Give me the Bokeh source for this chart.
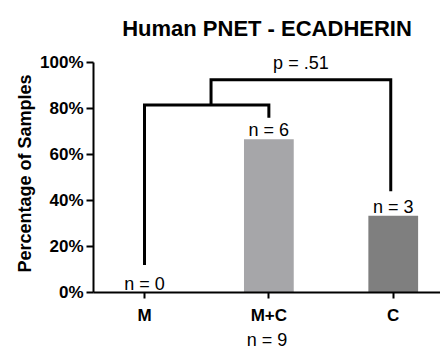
from bokeh.plotting import figure
from bokeh.models import Range1d, FixedTicker, NumeralTickFormatter, Title, Label
from bokeh.core.properties import value
from bokeh.embed import file_html
from bokeh.resources import INLINE

categories = ["M", "M+C", "C"]
counts = [0, 6, 3]
total = 9
percent = [c / total for c in counts]
bar_colors = ["#A6A6A9", "#A6A6A9", "#7F7F7F"]
n_labels = ["n = %d" % c for c in counts]
y_ticks = [0, 0.2, 0.4, 0.6, 0.8, 1.0]

# significance brackets (x in category index units, y in fraction)
bracket1_x = [0, 0, 1, 1]
bracket1_y = [0.12, 0.815, 0.815, 0.76]
bracket2_x = [0.535, 0.535, 1.98, 1.98]
bracket2_y = [0.815, 0.925, 0.925, 0.44]
p_label = "p = .51"

FONT = "Liberation Sans"

p = figure(width=440, height=350, output_backend="svg", toolbar_location=None,
           x_range=Range1d(-0.41, 2.38), y_range=Range1d(0, 1.035),
           min_border_left=93, min_border_right=0, min_border_top=54, min_border_bottom=58)
p.background_fill_color = "white"
p.border_fill_color = "white"
p.outline_line_color = None
p.xgrid.visible = False
p.ygrid.visible = False

x_idx = list(range(len(categories)))
p.vbar(x=x_idx, top=percent, width=0.4, color=bar_colors, line_color=None)

p.text(x=x_idx, y=percent, text=n_labels, text_align="center", text_baseline="alphabetic",
       y_offset=-9, text_font=value(FONT), text_font_size="18px", text_color="black")

for bx, by in ((bracket1_x, bracket1_y), (bracket2_x, bracket2_y)):
    p.line(x=bx, y=by, line_width=3, line_color="black", line_join="miter", line_cap="butt")

p.add_layout(Label(x=(bracket2_x[1] + bracket2_x[2]) / 2, y=bracket2_y[1], text=p_label,
                   text_align="center", text_baseline="alphabetic", y_offset=17,
                   text_font=FONT, text_font_size="18px", text_color="black"))

# y axis
ya = p.yaxis[0]
ya.ticker = FixedTicker(ticks=y_ticks)
ya.formatter = NumeralTickFormatter(format="0%")
ya.bounds = (0, 1)
ya.axis_label = "Percentage of Samples"
ya.axis_label_text_font = FONT
ya.axis_label_text_font_style = "bold"
ya.axis_label_text_font_size = "18px"
ya.axis_label_text_color = "black"
ya.axis_label_standoff = 2
ya.major_label_text_font = FONT
ya.major_label_text_font_style = "bold"
ya.major_label_text_font_size = "17px"
ya.major_label_text_color = "black"
ya.major_label_standoff = 3
ya.axis_line_width = 2
ya.axis_line_color = "black"
ya.major_tick_line_width = 2
ya.major_tick_line_color = "black"
ya.major_tick_out = 7
ya.major_tick_in = 0
ya.minor_tick_line_color = None

# x axis
xa = p.xaxis[0]
xa.ticker = FixedTicker(ticks=x_idx)
xa.major_label_overrides = {i: c for i, c in enumerate(categories)}
xa.major_label_text_font = FONT
xa.major_label_text_font_style = "bold"
xa.major_label_text_font_size = "17px"
xa.major_label_text_color = "black"
xa.major_label_standoff = 7
xa.axis_line_width = 2
xa.axis_line_color = "black"
xa.major_tick_line_width = 2
xa.major_tick_line_color = "black"
xa.major_tick_out = 6
xa.major_tick_in = 0
xa.minor_tick_line_color = None

# total n below the category labels
p.add_layout(Title(text="n = %d" % total, align="center", text_font=FONT,
                   text_font_style="normal", text_font_size="18px", text_color="black",
                   standoff=1), "below")

p.title = Title(text="Human PNET - ECADHERIN", align="center", vertical_align="top",
                text_font=FONT, text_font_style="bold", text_font_size="22px",
                text_color="black", standoff=24)

open("out.html", "w").write(file_html(p, INLINE))
